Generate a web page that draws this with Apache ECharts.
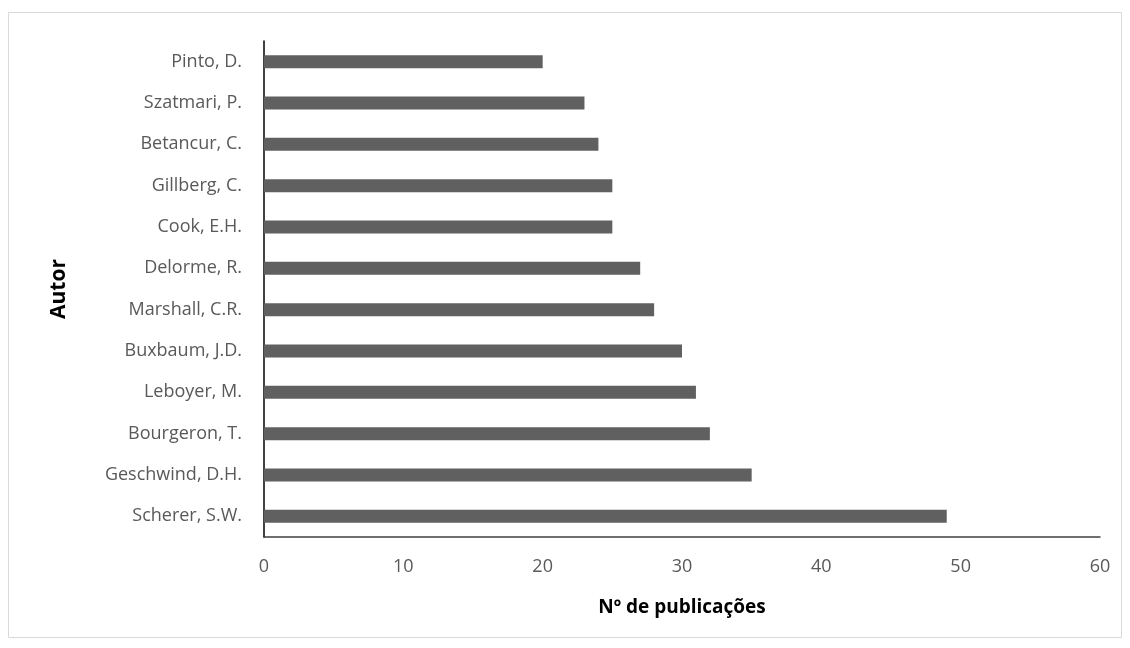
<!DOCTYPE html>
<html>
<head>
<meta charset="utf-8">
<script src="https://cdn.jsdelivr.net/npm/echarts@6/dist/echarts.min.js"></script>
<style>
  html, body { margin: 0; padding: 0; background: #fff; }
  #chart { width: 1130px; height: 648px; }
</style>
</head>
<body>
<div id="chart"></div>
<script>
// authors, bottom to top as drawn
var authors = ['Scherer, S.W.', 'Geschwind, D.H.', 'Bourgeron, T.', 'Leboyer, M.',
    'Buxbaum, J.D.', 'Marshall, C.R.', 'Delorme, R.', 'Cook, E.H.',
    'Gillberg, C.', 'Betancur, C.', 'Szatmari, P.', 'Pinto, D.'];
var publications = [49, 35, 32, 31, 30, 28, 27, 25, 25, 24, 23, 20];
var xTicks = [0, 10, 20, 30, 40, 50, 60];

var font = 'Open Sans';
var myChart = echarts.init(document.getElementById('chart'));
myChart.setOption({
    animation: false,
    backgroundColor: '#fff',
    graphic: [{
        type: 'rect',
        shape: { x: 8.5, y: 12.5, width: 1113, height: 625 },
        style: { fill: 'none', stroke: '#d9d9d9', lineWidth: 1 }
    }],
    grid: { left: 264, right: 30, top: 41, bottom: 111 },
    xAxis: {
        type: 'value',
        min: xTicks[0],
        max: xTicks[xTicks.length - 1],
        interval: 10,
        name: 'Nº de publicações',
        nameLocation: 'middle',
        nameGap: 61,
        nameTextStyle: { color: '#000', fontWeight: 'bold', fontSize: 19, fontFamily: font },
        axisLine: { show: true, lineStyle: { color: '#404040', width: 1.5 } },
        axisTick: { show: false },
        splitLine: { show: false },
        axisLabel: { color: '#595959', fontSize: 18, fontFamily: font, margin: 21 }
    },
    yAxis: {
        type: 'category',
        data: authors,
        name: 'Autor',
        nameLocation: 'middle',
        nameGap: 194,
        nameRotate: 90,
        nameTextStyle: { color: '#000', fontWeight: 'bold', fontSize: 21, fontFamily: font },
        axisLine: { show: true, lineStyle: { color: '#000', width: 1.5 } },
        axisTick: { show: false },
        axisLabel: { color: '#595959', fontSize: 18, fontFamily: font, margin: 22 }
    },
    series: [{
        type: 'bar',
        data: publications,
        barWidth: 13,
        itemStyle: { color: '#606060' }
    }]
});
</script>
</body>
</html>
